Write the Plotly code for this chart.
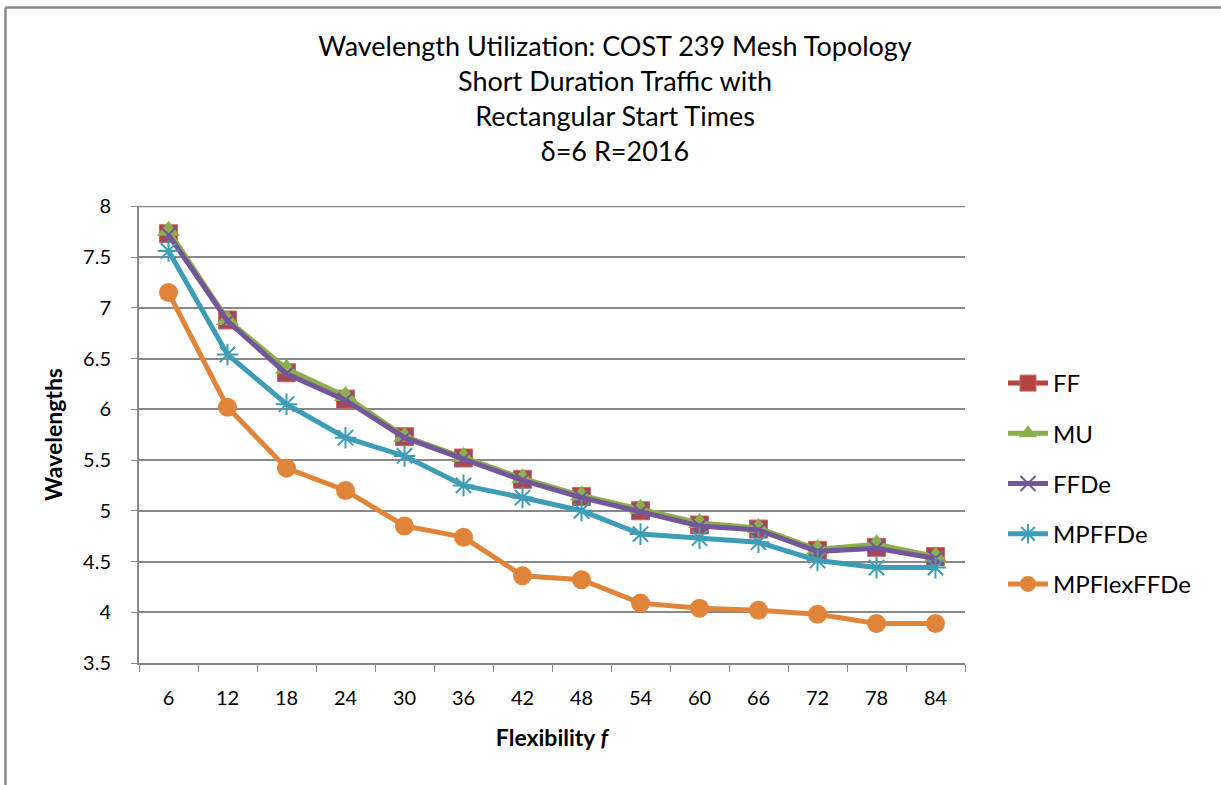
import plotly.graph_objects as go

categories = ["6", "12", "18", "24", "30", "36", "42", "48", "54", "60", "66", "72", "78", "84"]
ff = [7.73, 6.88, 6.36, 6.10, 5.73, 5.52, 5.31, 5.14, 5.00, 4.86, 4.82, 4.61, 4.64, 4.55]
mu = [7.76, 6.88, 6.40, 6.13, 5.73, 5.53, 5.32, 5.15, 5.02, 4.88, 4.83, 4.62, 4.67, 4.55]
ffde = [7.72, 6.87, 6.35, 6.09, 5.72, 5.51, 5.30, 5.13, 4.99, 4.85, 4.81, 4.60, 4.63, 4.53]
mpffde = [7.56, 6.54, 6.05, 5.72, 5.54, 5.25, 5.13, 5.00, 4.77, 4.73, 4.69, 4.51, 4.44, 4.44]
mpflexffde = [7.15, 6.02, 5.42, 5.20, 4.85, 4.74, 4.36, 4.32, 4.09, 4.04, 4.02, 3.98, 3.89, 3.89]

FONT = "Lato"

series = [
    ("FF", ff, "#B5433F", dict(symbol="square", size=18, color="#B5433F", line=dict(width=1, color="#C86A66"))),
    ("MU", mu, "#8DAE4C", dict(symbol="triangle-up", size=20, color="#8DAE4C")),
    ("FFDe", ffde, "#74569A", dict(symbol="x-thin-open", size=15, line=dict(width=2, color="#74569A"))),
    ("MPFFDe", mpffde, "#3E9CB6", dict(symbol="asterisk-open", size=18, line=dict(width=2, color="#3E9CB6"))),
    ("MPFlexFFDe", mpflexffde, "#E0843A", dict(symbol="circle", size=19, color="#E0843A")),
]

fig = go.Figure()
for i, (name, vals, col, mk) in enumerate(series):
    fig.add_trace(go.Scatter(
        x=categories, y=vals, name=name, mode="lines+markers",
        line=dict(color=col, width=5), marker=mk,
        legendgroup=f"g{i}",
    ))

grid = "#888888"
L, T = 139, 206
W, H = 1221, 785
R = W - 965
B = H - 663
pw = W - L - R
ph = H - T - B

fig.update_layout(
    width=W, height=H,
    margin=dict(l=L, r=R, t=T, b=B, pad=0),
    paper_bgcolor="white", plot_bgcolor="white",
    font=dict(family=FONT, size=20, color="#000000"),
    title=dict(
        text="Wavelength Utilization: COST 239 Mesh Topology<br>Short Duration Traffic with<br>Rectangular Start Times<br>δ=6 R=2016",
        x=615 / W, xanchor="center", y=1 - 56 / H, yanchor="top",
        font=dict(family=FONT, size=27, color="#000000"),
    ),
    showlegend=True,
    legend=dict(
        x=(1003 - L) / pw, xanchor="left", y=(H - B - 361) / ph, yanchor="top",
        font=dict(family=FONT, size=24, color="#000000"),
        traceorder="grouped", tracegroupgap=16, bgcolor="rgba(0,0,0,0)",
        itemwidth=40,
    ),
    xaxis=dict(
        type="category", showgrid=False, showline=True, linecolor=grid, linewidth=2,
        ticks="outside", tickson="boundaries", ticklen=7, tickcolor=grid, tickwidth=1,
        tickfont=dict(family=FONT, size=20), ticklabelstandoff=16,
        title=dict(text="<b>Flexibility <i>f</i></b>", font=dict(family=FONT, size=23), standoff=22),
        range=[-0.5, 13.5],
    ),
    yaxis=dict(
        range=[3.5, 8.003], dtick=0.5, tick0=3.5, showgrid=True, gridcolor=grid, gridwidth=2,
        showline=True, linecolor=grid, linewidth=2, zeroline=False,
        ticks="outside", ticklen=6, tickcolor=grid, tickwidth=1,
        tickfont=dict(family=FONT, size=20), ticklabelstandoff=16,
        title=dict(text="<b>Wavelengths</b>", font=dict(family=FONT, size=23), standoff=14),
    ),
)

# top gridline at 8
fig.add_shape(type="line", xref="paper", yref="y", x0=0, x1=1, y0=8, y1=8,
              line=dict(color=grid, width=2), layer="below")

# outer chart border (top and left visible)
x0 = (5.5 - L) / pw
y0 = (H - B - 7.5) / ph
fig.add_shape(type="line", xref="paper", yref="paper", x0=x0, x1=(W + 5 - L) / pw, y0=y0, y1=y0,
              line=dict(color="#888888", width=2.5))
fig.add_shape(type="line", xref="paper", yref="paper", x0=x0, x1=x0, y0=y0, y1=(-5 - B) / ph,
              line=dict(color="#888888", width=2.5))

fig.write_html("out.html")
